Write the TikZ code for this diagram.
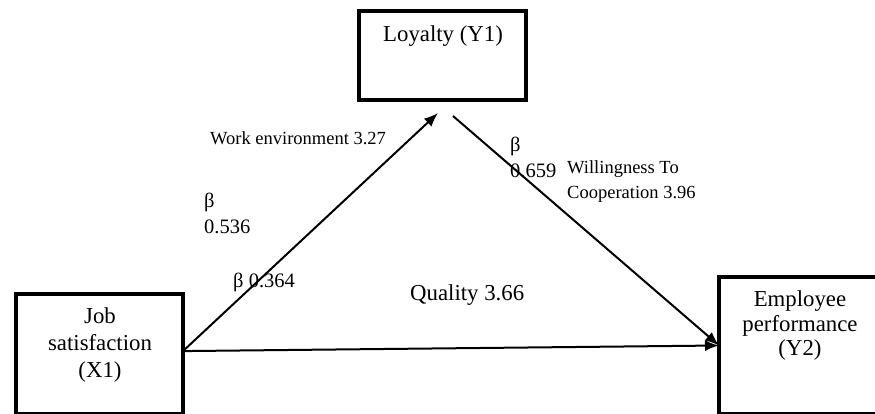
\documentclass[tikz,border=0pt]{standalone}
\usepackage{fontspec}
\setmainfont{Liberation Serif}
\usetikzlibrary{arrows.meta}
\begin{document}
\begin{tikzpicture}[x=1pt,y=-1pt,
  box/.style={draw,line width=4pt,rectangle,inner sep=0pt,outer sep=0pt},
  big/.style={font=\fontsize{22.8}{26}\selectfont,align=center,inner sep=0pt},
  mid/.style={font=\fontsize{20.5}{26}\selectfont,align=left,inner sep=0pt,anchor=west},
  small/.style={font=\fontsize{18.5}{25}\selectfont,align=left,inner sep=0pt,anchor=west},
  conn/.style={line width=2pt,-{Latex[length=14pt,width=11pt]}}]
\clip (0,0) rectangle (875,413);
% boxes
\node[box,minimum width=167pt,minimum height=89pt] (L) at (442.5,55.5) {};
\node[box,minimum width=167pt,minimum height=120pt] (J) at (99.5,354) {};
\node[box,minimum width=170pt,minimum height=137pt] (E) at (804,345.5) {};
% box texts
\node[big] (Lt) at (443,36) {Loyalty (Y1)};
\node[big,font=\fontsize{22.8}{27}\selectfont] (Jt) at (100,345) {Job\\satisfaction\\(X1)};
\node[big,font=\fontsize{22.8}{24.5}\selectfont] (Et) at (800,326) {Employee\\performance\\(Y2)};
% connector ends near Loyalty
\coordinate (t1) at (438,113);
\coordinate (t3) at (453,116);
% connectors
\draw[conn] (J.2.7) -- (t1);
\draw[conn] (J.2.7) -- (E.west);
\draw[conn] (t3) -- (E.west);
% labels
\node[small] (we) at (210,138) {Work environment 3.27};
\node[mid] (b1) at (204,213) {β\\0.536};
\node[mid] (b2) at (233,282) {β 0.364};
\node[big,anchor=west] (q) at (410,295) {Quality 3.66};
\node[mid] (b3) at (510,157.5) {β\\0.659};
\node[small] (wc) at (567,181.5) {Willingness To\\Cooperation 3.96};
\end{tikzpicture}
\end{document}
